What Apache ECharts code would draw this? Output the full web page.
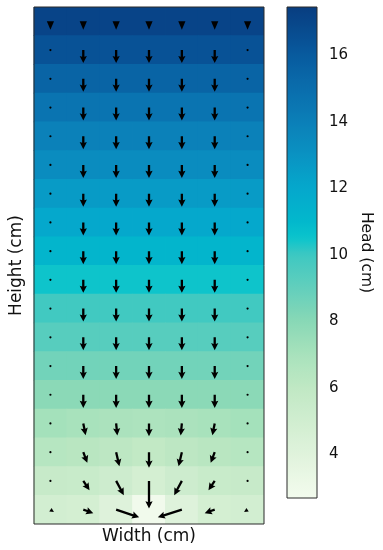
<!DOCTYPE html>
<html>
<head>
<meta charset="utf-8">
<script src="https://cdn.jsdelivr.net/npm/echarts@6/dist/echarts.min.js"></script>
<style>
html,body{margin:0;padding:0;background:#fff;}
#chart{width:383px;height:550px;}
</style>
</head>
<body>
<div id="chart"></div>
<script>
// ---------------- data ----------------
const WIDTH_CATS = ['0', '1', '2', '3', '4', '5', '6'];
const HEIGHT_CATS = ['17', '16', '15', '14', '13', '12', '11', '10', '9', '8', '7', '6', '5', '4', '3', '2', '1', '0']; // top -> bottom

// hydraulic head (cm), rows top -> bottom, columns left -> right
const HEAD = [
  [17.1, 17.1, 17.1, 17.1, 17.1, 17.1, 17.1],
  [16.4, 16.4, 16.4, 16.4, 16.4, 16.4, 16.4],
  [15.5, 15.5, 15.5, 15.5, 15.5, 15.5, 15.5],
  [14.6, 14.6, 14.6, 14.6, 14.6, 14.6, 14.6],
  [13.9, 13.9, 13.9, 13.9, 13.9, 13.9, 13.9],
  [13.3, 13.3, 13.3, 13.3, 13.3, 13.3, 13.3],
  [12.6, 12.6, 12.6, 12.6, 12.6, 12.6, 12.6],
  [12.0, 12.0, 12.0, 12.0, 12.0, 12.0, 12.0],
  [11.2, 11.2, 11.2, 11.2, 11.2, 11.2, 11.2],
  [10.5, 10.5, 10.5, 10.5, 10.5, 10.5, 10.5],
  [9.9, 9.9, 9.9, 9.9, 9.9, 9.9, 9.9],
  [9.3, 9.3, 9.3, 9.3, 9.3, 9.3, 9.3],
  [8.6, 8.6, 8.6, 8.6, 8.6, 8.6, 8.6],
  [7.9, 7.9, 7.9, 7.9, 7.9, 7.9, 7.9],
  [7.1, 7.0, 6.9, 6.8, 6.9, 7.0, 7.1],
  [6.4, 6.3, 6.1, 5.9, 6.1, 6.3, 6.4],
  [5.6, 5.5, 5.2, 4.8, 5.2, 5.5, 5.6],
  [4.9, 4.8, 4.1, 2.8, 4.1, 4.8, 4.9]
];

// flow velocity components (u: rightward, v: upward), rows top -> bottom
const U = [
  [0, 0, 0, 0, 0, 0, 0],
  [0, 0, 0, 0, 0, 0, 0],
  [0, 0, 0, 0, 0, 0, 0],
  [0, 0, 0, 0, 0, 0, 0],
  [0, 0, 0, 0, 0, 0, 0],
  [0, 0, 0, 0, 0, 0, 0],
  [0, 0, 0, 0, 0, 0, 0],
  [0, 0, 0, 0, 0, 0, 0],
  [0, 0, 0, 0, 0, 0, 0],
  [0, 0, 0, 0, 0, 0, 0],
  [0, 0, 0, 0, 0, 0, 0],
  [0, 0, 0, 0, 0, 0, 0],
  [0, 0, 0, 0, 0, 0, 0],
  [0, 0, 0, 0, 0, 0, 0],
  [0, 0.18, 0.09, 0, -0.09, -0.18, 0],
  [0, 0.31, 0.25, 0, -0.25, -0.31, 0],
  [0, 0.48, 0.59, 0, -0.59, -0.48, 0],
  [0.27, 0.77, 1.77, null, -1.85, -0.77, -0.27]
];
const V = [
  [-0.65, -0.65, -0.65, -0.65, -0.65, -0.65, -0.65],
  [-0.06, -1.0, -1.0, -1.0, -1.0, -1.0, -0.06],
  [-0.06, -1.0, -1.0, -1.0, -1.0, -1.0, -0.06],
  [-0.06, -1.0, -1.0, -1.0, -1.0, -1.0, -0.06],
  [-0.06, -1.0, -1.0, -1.0, -1.0, -1.0, -0.06],
  [-0.06, -1.0, -1.0, -1.0, -1.0, -1.0, -0.06],
  [-0.06, -1.0, -1.0, -1.0, -1.0, -1.0, -0.06],
  [-0.06, -1.0, -1.0, -1.0, -1.0, -1.0, -0.06],
  [-0.06, -1.0, -1.0, -1.0, -1.0, -1.0, -0.06],
  [-0.06, -1.0, -1.0, -1.0, -1.0, -1.0, -0.06],
  [-0.06, -1.0, -1.0, -1.0, -1.0, -1.0, -0.06],
  [-0.06, -1.0, -1.0, -1.0, -1.0, -1.0, -0.06],
  [-0.06, -1.0, -1.0, -1.0, -1.0, -1.0, -0.06],
  [-0.06, -1.02, -1.02, -1.02, -1.02, -1.02, -0.06],
  [-0.06, -0.9, -0.92, -0.98, -0.92, -0.9, -0.06],
  [-0.05, -0.82, -1.08, -1.2, -1.08, -0.82, -0.05],
  [-0.04, -0.72, -1.1, -2.12, -1.1, -0.72, -0.04],
  [-0.18, -0.27, -0.59, null, -0.59, -0.27, -0.18]
];

const CB_MIN = 2.68;
const CB_MAX = 17.45;
const CB_TICKS = [4, 6, 8, 10, 12, 14, 16];

// ---------------- styling ----------------
const CMAP = [
  [2.68, '#f3fbee'], [4, '#e0f3dc'], [6, '#c0e8c4'], [7, '#a8e2bc'], [8, '#88d8b6'],
  [9, '#62cfbc'], [10, '#3ec8c2'], [10.5, '#0ac4cc'], [11, '#02b8cc'], [12, '#05a8cc'],
  [13, '#0a92c2'], [14, '#0b7fb8'], [15, '#0a6dac'], [16, '#085a9e'], [17.45, '#083d80']
];
function hex2rgb(h) { return [parseInt(h.substr(1,2),16), parseInt(h.substr(3,2),16), parseInt(h.substr(5,2),16)]; }
function cmap(val) {
  if (val <= CMAP[0][0]) return CMAP[0][1];
  for (let i = 1; i < CMAP.length; i++) {
    if (val <= CMAP[i][0]) {
      const a = CMAP[i-1], b = CMAP[i];
      const t = (val - a[0]) / (b[0] - a[0]);
      const ca = hex2rgb(a[1]), cb = hex2rgb(b[1]);
      const c = ca.map((x, k) => Math.round(x + (cb[k] - x) * t));
      return 'rgb(' + c.join(',') + ')';
    }
  }
  return CMAP[CMAP.length-1][1];
}
const NS = 80;
const rangeColors = [];
for (let i = 0; i <= NS; i++) rangeColors.push(cmap(CB_MIN + (CB_MAX - CB_MIN) * i / NS));
const gradStops = [];
for (let i = 0; i <= NS; i++) gradStops.push({ offset: i / NS, color: cmap(CB_MAX - (CB_MAX - CB_MIN) * i / NS) });

const FONT = 'DejaVu Sans';
const ARROW_SCALE = 13;   // px per velocity unit
const SHAFT_W = 2.3, HEAD_W = 7.2, HEAD_L = 7.2, HEAD_AX = 6.4;

// ---------------- build series data ----------------
const heatData = [];
const quiverData = [];
for (let r = 0; r < HEIGHT_CATS.length; r++) {
  for (let c = 0; c < WIDTH_CATS.length; c++) {
    heatData.push([c, r, HEAD[r][c]]);
    if (U[r][c] !== null && V[r][c] !== null) quiverData.push([c, r, U[r][c], V[r][c]]);
  }
}

function renderCell(params, api) {
  const p = api.coord([api.value(0), api.value(1)]);
  const s = api.size([1, 1]);
  const ov = 0.4;
  return {
    type: 'rect',
    shape: { x: p[0] - s[0] / 2 - ov, y: p[1] - s[1] / 2 - ov, width: s[0] + 2 * ov, height: s[1] + 2 * ov },
    style: { fill: api.visual('color') }
  };
}

function renderArrow(params, api) {
  const p = api.coord([api.value(0), api.value(1)]);
  const dx = api.value(2) * ARROW_SCALE;
  const dy = -api.value(3) * ARROW_SCALE;
  const L = Math.sqrt(dx * dx + dy * dy);
  if (L < 1.5) {
    return { type: 'circle', shape: { cx: p[0], cy: p[1], r: 1.1 }, style: { fill: '#000' } };
  }
  const ux = dx / L, uy = dy / L, nx = -uy, ny = ux;
  const pt = (a, b) => [p[0] + ux * a + nx * b, p[1] + uy * a + ny * b];
  let pts;
  if (L <= HEAD_L * 1.25) {
    const w = HEAD_W * Math.min(1, L / HEAD_L) / 2;
    pts = [pt(0, -w), pt(L, 0), pt(0, w)];
  } else {
    const s = SHAFT_W / 2, h = HEAD_W / 2;
    pts = [pt(0, -s), pt(L - HEAD_AX, -s), pt(L - HEAD_L, -h), pt(L, 0), pt(L - HEAD_L, h), pt(L - HEAD_AX, s), pt(0, s)];
  }
  return { type: 'polygon', shape: { points: pts }, style: { fill: '#000' } };
}

function renderColorbar(params, api) {
  const a = api.coord([api.value(0), api.value(1)]);
  const b = api.coord([api.value(2), api.value(3)]);
  return {
    type: 'rect',
    shape: { x: Math.min(a[0], b[0]), y: Math.min(a[1], b[1]), width: Math.abs(b[0] - a[0]), height: Math.abs(b[1] - a[1]) },
    style: { fill: new echarts.graphic.LinearGradient(0, 0, 0, 1, gradStops), stroke: '#2a2a2a', lineWidth: 1 }
  };
}

const chart = echarts.init(document.getElementById('chart'), null, { renderer: 'canvas' });
chart.setOption({
  backgroundColor: '#fff',
  animation: false,
  textStyle: { fontFamily: FONT },
  grid: [
    { left: 32, top: 7, width: 232, height: 517, show: true, borderColor: '#2a2a2a', borderWidth: 1, backgroundColor: 'transparent', z: 10 },
    { left: 287, top: 7, width: 30, height: 491 }
  ],
  xAxis: [
    { type: 'category', gridIndex: 0, data: WIDTH_CATS, axisLine: { show: false }, axisTick: { show: false }, axisLabel: { show: false },
      name: 'Width (cm)', nameLocation: 'middle', nameGap: 4, nameTextStyle: { fontFamily: FONT, fontSize: 17, color: '#111', verticalAlign: 'top' } },
    { type: 'value', gridIndex: 1, min: 0, max: 1, show: false }
  ],
  yAxis: [
    { type: 'category', gridIndex: 0, data: HEIGHT_CATS, inverse: true, axisLine: { show: false }, axisTick: { show: false }, axisLabel: { show: false },
      name: 'Height (cm)', nameLocation: 'middle', nameGap: 9, nameRotate: 90, nameTextStyle: { fontFamily: FONT, fontSize: 17, color: '#111' } },
    { type: 'value', gridIndex: 1, min: CB_MIN, max: CB_MAX, position: 'right',
      axisLine: { show: false }, splitLine: { show: false },
      axisTick: { show: true, length: 5, lineStyle: { color: '#2a2a2a', width: 1 }, customValues: CB_TICKS },
      axisLabel: { show: true, margin: 12, fontFamily: FONT, fontSize: 15, color: '#111', customValues: CB_TICKS, formatter: v => String(v) },
      name: 'Head (cm)', nameLocation: 'middle', nameGap: 41, nameRotate: -90, nameTextStyle: { fontFamily: FONT, fontSize: 15.5, color: '#111' } }
  ],
  visualMap: {
    type: 'continuous', show: false, min: CB_MIN, max: CB_MAX, seriesIndex: 0, dimension: 2,
    inRange: { color: rangeColors }
  },
  series: [
    { type: 'custom', xAxisIndex: 0, yAxisIndex: 0, data: heatData, renderItem: renderCell, encode: { x: 0, y: 1 }, z: 2, silent: true,
      clip: true },
    { type: 'custom', xAxisIndex: 0, yAxisIndex: 0, data: quiverData, renderItem: renderArrow, encode: { x: 0, y: 1 }, z: 5, silent: true },
    { type: 'custom', xAxisIndex: 1, yAxisIndex: 1, data: [[0, CB_MIN, 1, CB_MAX]], renderItem: renderColorbar, silent: true }
  ]
});
</script>
</body>
</html>
